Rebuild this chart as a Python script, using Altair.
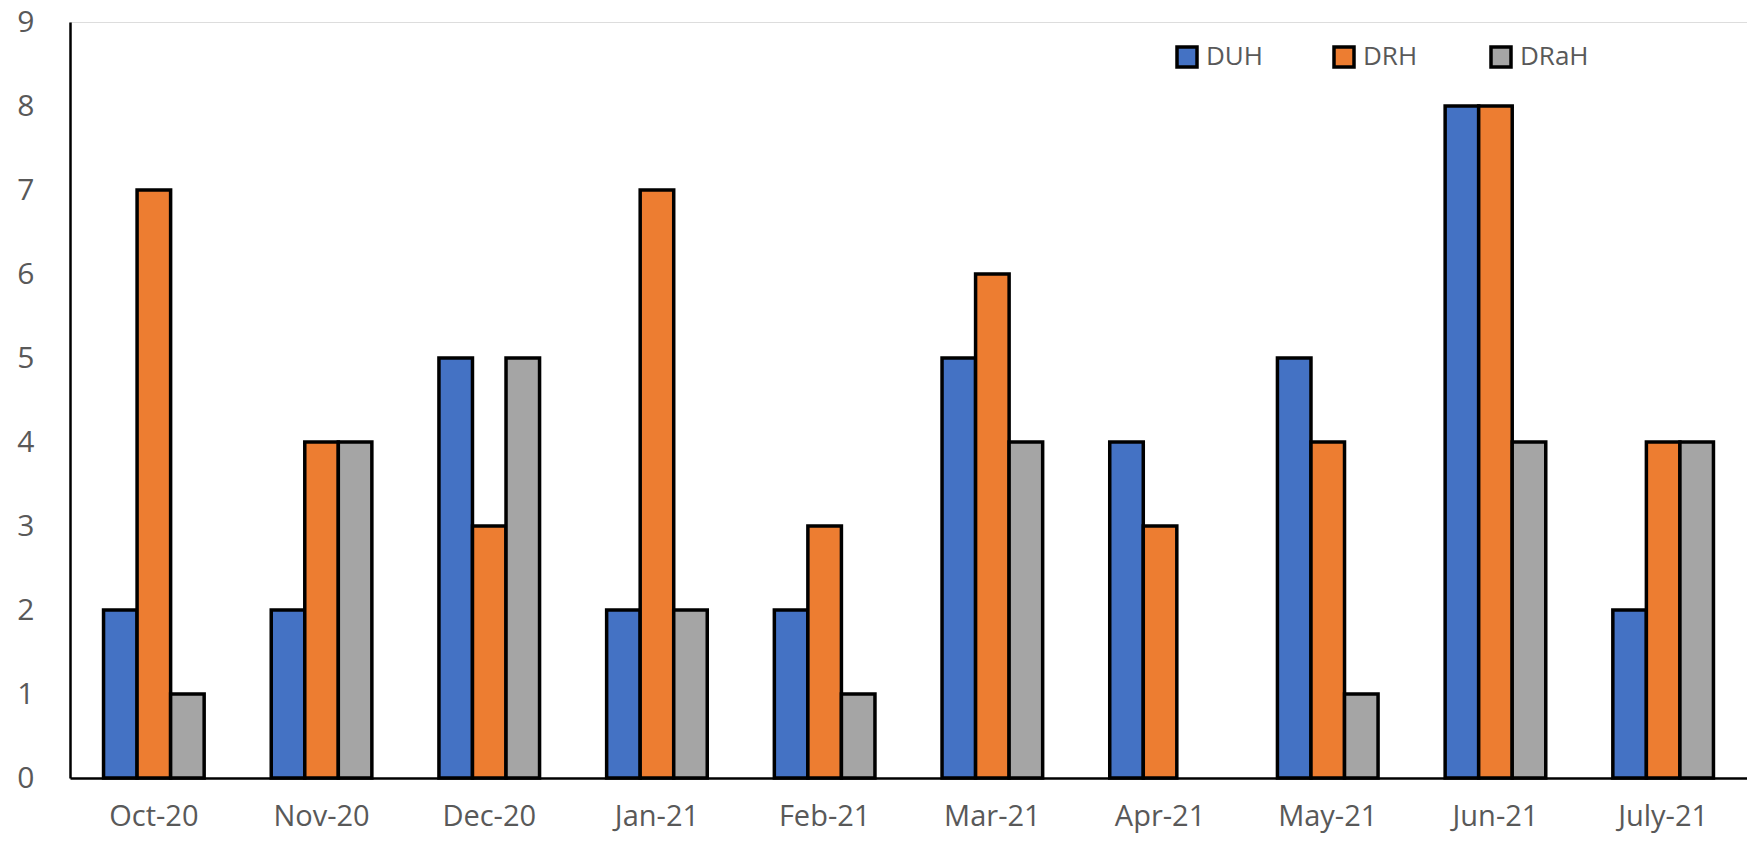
import altair as alt
import pandas as pd

months = ["Oct-20", "Nov-20", "Dec-20", "Jan-21", "Feb-21",
          "Mar-21", "Apr-21", "May-21", "Jun-21", "July-21"]
series = ["DUH", "DRH", "DRaH"]
duh = [2, 2, 5, 2, 2, 5, 4, 5, 8, 2]
drh = [7, 4, 3, 7, 3, 6, 3, 4, 8, 4]
drah = [1, 4, 5, 2, 1, 4, 0, 1, 4, 4]
colors = ["#4472C4", "#ED7D31", "#A5A5A5"]

rows = []
for name, vals in zip(series, [duh, drh, drah]):
    for m, v in zip(months, vals):
        rows.append({"month": m, "series": name, "value": v})
df = pd.DataFrame(rows)

label_color = "#595959"
font = "Open Sans"

chart = alt.Chart(df).mark_bar(stroke="black").encode(
    x=alt.X("month:N", sort=months, title=None,
            scale=alt.Scale(paddingInner=0.4, paddingOuter=0.2),
            axis=alt.Axis(labelAngle=0, ticks=False, domainColor="black",
                          domainWidth=2.5, labelPadding=24, labelFontSize=29,
                          labelColor=label_color, labelFont=font, grid=False)),
    xOffset=alt.XOffset("series:N", sort=series,
                        scale=alt.Scale(paddingInner=0, paddingOuter=0)),
    y=alt.Y("value:Q", title=None,
            scale=alt.Scale(domain=[0, 9], nice=False),
            axis=alt.Axis(values=list(range(10)), ticks=False, grid=False,
                          domainColor="black", domainWidth=2.5, labelPadding=36,
                          labelFontSize=30, labelColor=label_color, labelFont=font)),
    color=alt.Color("series:N", sort=series,
                    scale=alt.Scale(domain=series, range=colors),
                    legend=alt.Legend(title=None, orient="none", direction="horizontal",
                                      columns=3, legendX=1104, legendY=22,
                                      gridAlign="all", columnPadding=52,
                                      symbolType="square", symbolSize=400,
                                      symbolStrokeColor="black", symbolStrokeWidth=3.5,
                                      labelFontSize=26, labelColor=label_color,
                                      labelFont=font, labelOffset=6)),
    # zero-height bars get no outline
    strokeWidth=alt.condition(alt.datum.value > 0, alt.value(3.5), alt.value(0)),
).properties(
    width=1677, height=756,
    autosize=alt.AutoSizeParams(type="none"),
    padding={"left": 70, "top": 22, "right": 0, "bottom": 66},
).configure_view(stroke=None).configure(background="white")

chart.save("out.html", embed_options={"renderer": "svg", "actions": False})
